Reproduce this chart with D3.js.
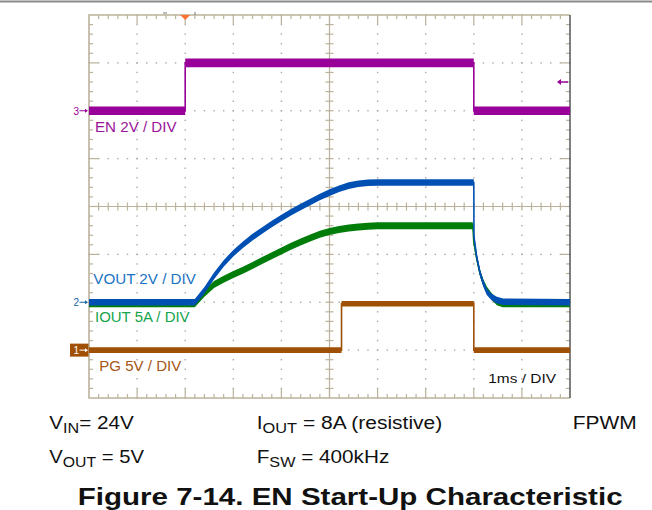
<!DOCTYPE html>
<html>
<head>
<meta charset="utf-8">
<script src="https://cdn.jsdelivr.net/npm/d3@7"></script>
<style>
  body { margin: 0; background: #fff; }
  text { font-family: "Liberation Sans", Arial, sans-serif; }
</style>
</head>
<body>
<svg id="chart"></svg>
<script>
// time in ms (1 ms / div, 10 div), levels in channel units
var enTime  = [0, 2.0, 2.0, 8.0, 8.0, 10];
var enLevel = [0, 0, 2.0, 2.0, 0, 0];

var voutTime  = [0, 2.2, 2.4, 2.6, 2.8, 3.0, 3.2, 3.4, 3.6, 3.8, 4.0, 4.2, 4.4, 4.6, 4.8, 5.0, 5.2, 5.4, 5.6, 5.8, 6.0,
                 8.0, 8.004, 8.06, 8.13, 8.2, 8.27, 8.37, 8.48, 8.61, 10];
var voutLevel = [0, 0, 0.50, 1.10, 1.62, 2.05, 2.40, 2.72, 3.00, 3.27, 3.52, 3.76, 3.98, 4.19, 4.40, 4.58, 4.74, 4.87, 4.95, 4.99, 5.0,
                 5.0, 2.74, 1.90, 1.22, 0.78, 0.44, 0.22, 0.09, 0.02, 0];

var ioutTime  = [0, 2.2, 2.4, 2.6, 2.8, 3.0, 3.2, 3.4, 3.6, 3.8, 4.0, 4.2, 4.4, 4.6, 4.8, 5.0, 5.2, 5.4, 5.6, 5.8, 6.0,
                 7.98, 8.0, 8.06, 8.13, 8.2, 8.27, 8.37, 8.48, 8.6, 10];
var ioutLevel = [-0.15, -0.15, 0.95, 1.85, 2.40, 2.90, 3.35, 3.85, 4.35, 4.85, 5.35, 5.85, 6.30, 6.72, 7.10, 7.38, 7.60, 7.75, 7.86, 7.94, 8.0,
                 8.0, 6.3, 4.59, 3.02, 2.0, 1.28, 0.6, 0.05, -0.15, -0.15];

var pgTime  = [0, 5.25, 5.25, 8.0, 8.0, 10];
var pgLevel = [0, 0, 4.85, 4.85, 0, 0];

var channelLabels = ["EN 2V / DIV", "VOUT 2V / DIV", "IOUT 5A / DIV", "PG 5V / DIV"];
var timebaseLabel = "1ms / DIV";
var titleText = "Figure 7-14. EN Start-Up Characteristic";

var svg = d3.select("#chart").attr("width", 652).attr("height", 510);

var x = d3.scaleLinear().domain([0, 10]).range([89, 570]);
var yDiv = d3.scaleLinear().domain([-4, 4]).range([398, 15]);

var gridColor = "rgb(188,178,156)";

// top rule
svg.append("line").attr("x1", 0).attr("x2", 652).attr("y1", 1.5).attr("y2", 1.5)
    .attr("stroke", "#8a8a8a").attr("stroke-width", 2);

var grid = svg.append("g");

// dotted division lines
var dots = [];
d3.range(1, 10).forEach(function (i) {
    if (i === 5) return;
    d3.range(-4, 4.001, 0.2).forEach(function (d) { dots.push([x(i), yDiv(d)]); });
});
d3.range(-3, 4).forEach(function (k) {
    if (k === 0) return;
    d3.range(0, 10.001, 0.2).forEach(function (t) { dots.push([x(t), yDiv(k)]); });
});
grid.selectAll(".dot").data(dots).enter().append("rect")
    .attr("x", function (d) { return d[0] - 0.7; })
    .attr("y", function (d) { return d[1] - 0.7; })
    .attr("width", 1.4).attr("height", 1.4)
    .attr("fill", "#a8a8a8");

// center cross
grid.append("line").attr("x1", x(0)).attr("x2", x(10)).attr("y1", yDiv(0)).attr("y2", yDiv(0))
    .attr("stroke", gridColor).attr("stroke-width", 1.2);
grid.append("line").attr("x1", x(5)).attr("x2", x(5)).attr("y1", yDiv(-4)).attr("y2", yDiv(4))
    .attr("stroke", gridColor).attr("stroke-width", 1.2);

var tSteps = d3.range(0.2, 9.9, 0.2);
var dSteps = d3.range(-3.8, 3.9, 0.2);
function isMajor(v) { return Math.abs(v - Math.round(v)) < 0.01; }

grid.selectAll(".ctx").data(tSteps).enter().append("line")
    .attr("x1", function (t) { return x(t); }).attr("x2", function (t) { return x(t); })
    .attr("y1", yDiv(0) - 4).attr("y2", yDiv(0) + 4)
    .attr("stroke", gridColor).attr("stroke-width", 1.2);
grid.selectAll(".cty").data(dSteps).enter().append("line")
    .attr("y1", function (d) { return yDiv(d); }).attr("y2", function (d) { return yDiv(d); })
    .attr("x1", x(5) - 4).attr("x2", x(5) + 4)
    .attr("stroke", gridColor).attr("stroke-width", 1.2);

// border ticks
grid.selectAll(".btt").data(tSteps).enter().append("line")
    .attr("x1", function (t) { return x(t); }).attr("x2", function (t) { return x(t); })
    .attr("y1", yDiv(4)).attr("y2", function (t) { return yDiv(4) + (isMajor(t) ? 9 : 4); })
    .attr("stroke", gridColor).attr("stroke-width", 1.2);
grid.selectAll(".btb").data(tSteps).enter().append("line")
    .attr("x1", function (t) { return x(t); }).attr("x2", function (t) { return x(t); })
    .attr("y1", yDiv(-4)).attr("y2", function (t) { return yDiv(-4) - (isMajor(t) ? 9 : 4); })
    .attr("stroke", gridColor).attr("stroke-width", 1.2);
grid.selectAll(".btl").data(dSteps).enter().append("line")
    .attr("y1", function (d) { return yDiv(d); }).attr("y2", function (d) { return yDiv(d); })
    .attr("x1", x(0)).attr("x2", function (d) { return x(0) + (isMajor(d) ? 9 : 4); })
    .attr("stroke", gridColor).attr("stroke-width", 1.2);
grid.selectAll(".btr").data(dSteps).enter().append("line")
    .attr("y1", function (d) { return yDiv(d); }).attr("y2", function (d) { return yDiv(d); })
    .attr("x1", x(10)).attr("x2", function (d) { return x(10) - (isMajor(d) ? 9 : 4); })
    .attr("stroke", gridColor).attr("stroke-width", 1.2);

// frame
grid.append("path")
    .attr("d", "M" + x(10) + "," + yDiv(4) + "H" + x(0) + "V" + yDiv(-4) + "H" + x(10))
    .attr("fill", "none").attr("stroke", gridColor).attr("stroke-width", 1.6);
grid.append("line").attr("x1", x(10)).attr("x2", x(10)).attr("y1", yDiv(4)).attr("y2", yDiv(-4))
    .attr("stroke", "#4a4a4a").attr("stroke-width", 1.4);

// traces
function zip(ts, vs) { return ts.map(function (t, i) { return { t: t, v: vs[i] }; }); }

var channels = [
    { data: zip(enTime, enLevel), offset: 2, perDiv: 2, color: "rgb(153,0,153)", half: 4.3 },
    { data: zip(pgTime, pgLevel), offset: -3, perDiv: 5, color: "rgb(160,80,5)", half: 2.8 },
    { data: zip(ioutTime, ioutLevel), offset: -2, perDiv: 5, color: "rgb(0,125,10)", half: 3.5 },
    { data: zip(voutTime, voutLevel), offset: -2, perDiv: 2, color: "rgb(0,80,180)", half: 3.3 }
];

channels.forEach(function (ch) {
    function yv(d) { return yDiv(ch.offset + d.v / ch.perDiv); }
    var area = d3.area()
        .x(function (d) { return x(d.t); })
        .y0(function (d) { return yv(d) + ch.half; })
        .y1(function (d) { return yv(d) - ch.half; });
    var line = d3.line()
        .x(function (d) { return x(d.t); })
        .y(yv);
    svg.append("path").attr("d", area(ch.data)).attr("fill", ch.color);
    svg.append("path").attr("d", line(ch.data)).attr("fill", "none")
        .attr("stroke", ch.color).attr("stroke-width", 1.6);
});

// trigger marker and position marks
svg.append("path")
    .attr("d", "M" + (x(2) - 5) + "," + yDiv(4) + "h10l-5,5z")
    .attr("fill", "rgb(250,115,50)");
svg.append("line").attr("x1", 163).attr("x2", 167).attr("y1", 13).attr("y2", 13)
    .attr("stroke", "#777").attr("stroke-width", 1);
svg.append("line").attr("x1", 195).attr("x2", 195).attr("y1", 12).attr("y2", 15)
    .attr("stroke", "#777").attr("stroke-width", 1);

// trigger level arrow on right
var trigY = yDiv(2 + 1.2 / 2);
svg.append("line").attr("x1", 559).attr("x2", 568).attr("y1", trigY).attr("y2", trigY)
    .attr("stroke", "rgb(153,0,153)").attr("stroke-width", 1.5);
svg.append("path").attr("d", "M557," + trigY + "l4,-3v6z").attr("fill", "rgb(153,0,153)");

// channel ground markers
function marker(num, yLevel, color, boxed) {
    var g = svg.append("g").attr("transform", "translate(0," + yLevel + ")");
    var fg = color;
    if (boxed) {
        g.append("rect").attr("x", 70).attr("y", -6.5).attr("width", 18.5).attr("height", 13).attr("fill", color);
        fg = "#fff";
    }
    g.append("text").attr("x", 73.5).attr("y", 3.8).attr("font-size", 10).attr("fill", fg).text(num);
    g.append("line").attr("x1", 79.5).attr("x2", 86).attr("y1", 0).attr("y2", 0)
        .attr("stroke", fg).attr("stroke-width", 1);
    g.append("path").attr("d", "M88,0l-3,-2v4z").attr("fill", fg);
}
marker("3", yDiv(2), "rgb(153,0,153)", false);
marker("2", yDiv(-2), "rgb(20,100,160)", false);
marker("1", yDiv(-3), "rgb(160,80,5)", true);

// text helper: fit to measured width
function label(px, py, width, size, color, weight, parts) {
    var t = svg.append("text").attr("font-size", size).attr("fill", color).attr("font-weight", weight);
    parts.forEach(function (p) {
        var s = t.append("tspan").text(p.s);
        if (p.sub) s.attr("font-size", size * 0.78).attr("dy", 4);
        if (p.after) s.attr("dy", -4);
    });
    var w = t.node().getBBox().width;
    t.attr("transform", "translate(" + px + "," + py + ") scale(" + (width / w) + ",1)");
}

label(95, 131.7, 82, 14.5, "rgb(153,20,153)", "normal", [{ s: channelLabels[0] }]);
label(93.3, 284.3, 103, 14.5, "rgb(25,115,195)", "normal", [{ s: channelLabels[1] }]);
label(95, 321.7, 95, 14.5, "rgb(20,165,75)", "normal", [{ s: channelLabels[2] }]);
label(99.3, 371, 82.4, 14.5, "rgb(165,85,20)", "normal", [{ s: channelLabels[3] }]);
label(488.3, 382.7, 67.7, 13.5, "#111", "normal", [{ s: timebaseLabel }]);

label(49.3, 429, 84.7, 18, "#111", "normal", [{ s: "V" }, { s: "IN", sub: true }, { s: "= 24V", after: true }]);
label(49.3, 462.7, 94.7, 18, "#111", "normal", [{ s: "V" }, { s: "OUT", sub: true }, { s: " = 5V", after: true }]);
label(256.7, 429, 185.6, 18, "#111", "normal", [{ s: "I" }, { s: "OUT", sub: true }, { s: " = 8A (resistive)", after: true }]);
label(256.7, 462.7, 132.6, 18, "#111", "normal", [{ s: "F" }, { s: "SW", sub: true }, { s: " = 400kHz", after: true }]);
label(572.7, 429, 64, 18, "#111", "normal", [{ s: "FPWM" }]);
label(77.7, 505, 545, 24, "#111", "bold", [{ s: titleText }]);
</script>
</body>
</html>
